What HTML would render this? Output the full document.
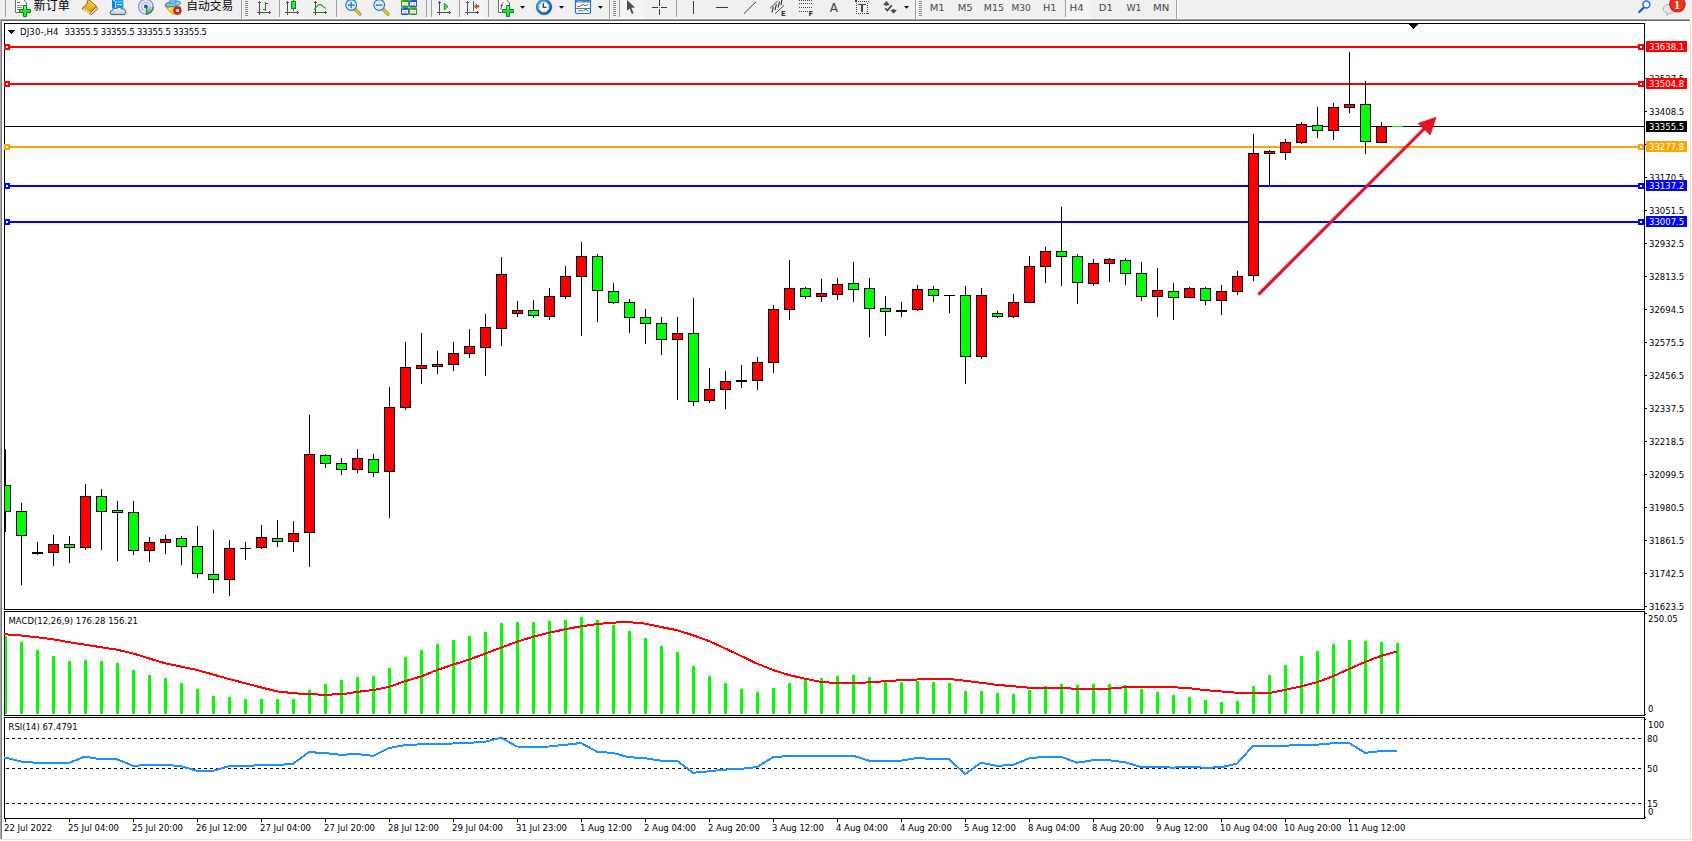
<!DOCTYPE html>
<html><head><meta charset="utf-8"><title>DJ30-,H4</title>
<style>
html,body{margin:0;padding:0;background:#fff;}
body{width:1692px;height:841px;overflow:hidden;position:relative;}
svg{position:absolute;left:0;top:0;display:block;}
text{white-space:pre;}
</style></head><body>
<svg width="1692" height="841" viewBox="0 0 1692 841" shape-rendering="crispEdges">
<rect x="0" y="0" width="1692" height="841" fill="#fff"/>
<rect x="0" y="0" width="1692" height="19" fill="#f0f0f0"/>
<rect x="0" y="18" width="1692" height="1" fill="#f7f7f7"/>
<rect x="0" y="19" width="1690" height="1" fill="#a0a0a0"/>
<rect x="0" y="20" width="1690" height="1" fill="#696969"/>
<rect x="0" y="20" width="1" height="819" fill="#a8a8a8"/>
<rect x="1" y="20" width="1" height="819" fill="#7a7a7a"/>
<rect x="1690" y="21" width="1" height="819" fill="#e3e3e3"/>
<rect x="0" y="839" width="1691" height="1" fill="#e6e6e6"/>
<rect x="4" y="23" width="1641" height="1" fill="#000"/>
<rect x="4" y="609" width="1641" height="1" fill="#000"/>
<rect x="4" y="23" width="1" height="587" fill="#000"/>
<rect x="1644" y="23" width="1" height="587" fill="#000"/>
<rect x="4" y="611" width="1641" height="1" fill="#000"/>
<rect x="4" y="715" width="1641" height="1" fill="#000"/>
<rect x="4" y="611" width="1" height="105" fill="#000"/>
<rect x="1644" y="611" width="1" height="105" fill="#000"/>
<rect x="4" y="717" width="1641" height="1" fill="#000"/>
<rect x="4" y="818" width="1641" height="1" fill="#000"/>
<rect x="4" y="717" width="1" height="102" fill="#000"/>
<rect x="1644" y="717" width="1" height="102" fill="#000"/>
<rect x="1645" y="78" width="2" height="1" fill="#000"/>
<text x="1649" y="82" font-family="DejaVu Sans, Liberation Sans, sans-serif" font-size="8.5" fill="#000">33527.5</text>
<rect x="1645" y="111" width="2" height="1" fill="#000"/>
<text x="1649" y="115" font-family="DejaVu Sans, Liberation Sans, sans-serif" font-size="8.5" fill="#000">33408.5</text>
<rect x="1645" y="144" width="2" height="1" fill="#000"/>
<text x="1649" y="148" font-family="DejaVu Sans, Liberation Sans, sans-serif" font-size="8.5" fill="#000">33289.5</text>
<rect x="1645" y="177" width="2" height="1" fill="#000"/>
<text x="1649" y="181" font-family="DejaVu Sans, Liberation Sans, sans-serif" font-size="8.5" fill="#000">33170.5</text>
<rect x="1645" y="210" width="2" height="1" fill="#000"/>
<text x="1649" y="214" font-family="DejaVu Sans, Liberation Sans, sans-serif" font-size="8.5" fill="#000">33051.5</text>
<rect x="1645" y="243" width="2" height="1" fill="#000"/>
<text x="1649" y="247" font-family="DejaVu Sans, Liberation Sans, sans-serif" font-size="8.5" fill="#000">32932.5</text>
<rect x="1645" y="276" width="2" height="1" fill="#000"/>
<text x="1649" y="280" font-family="DejaVu Sans, Liberation Sans, sans-serif" font-size="8.5" fill="#000">32813.5</text>
<rect x="1645" y="309" width="2" height="1" fill="#000"/>
<text x="1649" y="313" font-family="DejaVu Sans, Liberation Sans, sans-serif" font-size="8.5" fill="#000">32694.5</text>
<rect x="1645" y="342" width="2" height="1" fill="#000"/>
<text x="1649" y="346" font-family="DejaVu Sans, Liberation Sans, sans-serif" font-size="8.5" fill="#000">32575.5</text>
<rect x="1645" y="375" width="2" height="1" fill="#000"/>
<text x="1649" y="379" font-family="DejaVu Sans, Liberation Sans, sans-serif" font-size="8.5" fill="#000">32456.5</text>
<rect x="1645" y="408" width="2" height="1" fill="#000"/>
<text x="1649" y="412" font-family="DejaVu Sans, Liberation Sans, sans-serif" font-size="8.5" fill="#000">32337.5</text>
<rect x="1645" y="441" width="2" height="1" fill="#000"/>
<text x="1649" y="445" font-family="DejaVu Sans, Liberation Sans, sans-serif" font-size="8.5" fill="#000">32218.5</text>
<rect x="1645" y="474" width="2" height="1" fill="#000"/>
<text x="1649" y="478" font-family="DejaVu Sans, Liberation Sans, sans-serif" font-size="8.5" fill="#000">32099.5</text>
<rect x="1645" y="507" width="2" height="1" fill="#000"/>
<text x="1649" y="511" font-family="DejaVu Sans, Liberation Sans, sans-serif" font-size="8.5" fill="#000">31980.5</text>
<rect x="1645" y="540" width="2" height="1" fill="#000"/>
<text x="1649" y="544" font-family="DejaVu Sans, Liberation Sans, sans-serif" font-size="8.5" fill="#000">31861.5</text>
<rect x="1645" y="573" width="2" height="1" fill="#000"/>
<text x="1649" y="577" font-family="DejaVu Sans, Liberation Sans, sans-serif" font-size="8.5" fill="#000">31742.5</text>
<rect x="1645" y="606" width="2" height="1" fill="#000"/>
<text x="1649" y="610" font-family="DejaVu Sans, Liberation Sans, sans-serif" font-size="8.5" fill="#000">31623.5</text>
<rect x="5" y="126" width="1639" height="1" fill="#000"/>
<rect x="5" y="46" width="1639" height="2" fill="#ff0000"/>
<rect x="5" y="83" width="1639" height="2" fill="#ff0000"/>
<rect x="5" y="146" width="1639" height="2" fill="#ffa500"/>
<rect x="5" y="185" width="1639" height="2" fill="#0000ff"/>
<rect x="5" y="221" width="1639" height="2" fill="#0000ff"/>
<defs><clipPath id="mainclip"><rect x="5" y="24" width="1639" height="585"/></clipPath></defs>
<g clip-path="url(#mainclip)">
<rect x="5" y="449" width="1" height="83" fill="#000"/>
<rect x="0" y="485" width="11" height="27" fill="#000"/>
<rect x="1" y="486" width="9" height="25" fill="#00ff00"/>
<rect x="21" y="503" width="1" height="82" fill="#000"/>
<rect x="16" y="511" width="11" height="25" fill="#000"/>
<rect x="17" y="512" width="9" height="23" fill="#00ff00"/>
<rect x="37" y="542" width="1" height="13" fill="#000"/>
<rect x="32" y="552" width="11" height="2" fill="#000"/>
<rect x="53" y="535" width="1" height="31" fill="#000"/>
<rect x="48" y="544" width="11" height="9" fill="#000"/>
<rect x="49" y="545" width="9" height="7" fill="#ff0000"/>
<rect x="69" y="536" width="1" height="27" fill="#000"/>
<rect x="64" y="544" width="11" height="4" fill="#000"/>
<rect x="65" y="545" width="9" height="2" fill="#00ff00"/>
<rect x="85" y="484" width="1" height="66" fill="#000"/>
<rect x="80" y="496" width="11" height="52" fill="#000"/>
<rect x="81" y="497" width="9" height="50" fill="#ff0000"/>
<rect x="101" y="489" width="1" height="61" fill="#000"/>
<rect x="96" y="496" width="11" height="16" fill="#000"/>
<rect x="97" y="497" width="9" height="14" fill="#00ff00"/>
<rect x="117" y="501" width="1" height="60" fill="#000"/>
<rect x="112" y="510" width="11" height="3" fill="#000"/>
<rect x="113" y="511" width="9" height="1" fill="#00ff00"/>
<rect x="133" y="501" width="1" height="54" fill="#000"/>
<rect x="128" y="512" width="11" height="39" fill="#000"/>
<rect x="129" y="513" width="9" height="37" fill="#00ff00"/>
<rect x="149" y="537" width="1" height="25" fill="#000"/>
<rect x="144" y="542" width="11" height="9" fill="#000"/>
<rect x="145" y="543" width="9" height="7" fill="#ff0000"/>
<rect x="165" y="535" width="1" height="19" fill="#000"/>
<rect x="160" y="539" width="11" height="4" fill="#000"/>
<rect x="161" y="540" width="9" height="2" fill="#ff0000"/>
<rect x="181" y="536" width="1" height="29" fill="#000"/>
<rect x="176" y="538" width="11" height="9" fill="#000"/>
<rect x="177" y="539" width="9" height="7" fill="#00ff00"/>
<rect x="197" y="526" width="1" height="52" fill="#000"/>
<rect x="192" y="546" width="11" height="28" fill="#000"/>
<rect x="193" y="547" width="9" height="26" fill="#00ff00"/>
<rect x="213" y="530" width="1" height="63" fill="#000"/>
<rect x="208" y="574" width="11" height="6" fill="#000"/>
<rect x="209" y="575" width="9" height="4" fill="#00ff00"/>
<rect x="229" y="540" width="1" height="56" fill="#000"/>
<rect x="224" y="548" width="11" height="32" fill="#000"/>
<rect x="225" y="549" width="9" height="30" fill="#ff0000"/>
<rect x="245" y="542" width="1" height="18" fill="#000"/>
<rect x="240" y="548" width="11" height="1" fill="#000"/>
<rect x="261" y="525" width="1" height="24" fill="#000"/>
<rect x="256" y="537" width="11" height="11" fill="#000"/>
<rect x="257" y="538" width="9" height="9" fill="#ff0000"/>
<rect x="277" y="520" width="1" height="27" fill="#000"/>
<rect x="272" y="538" width="11" height="4" fill="#000"/>
<rect x="273" y="539" width="9" height="2" fill="#00ff00"/>
<rect x="293" y="521" width="1" height="31" fill="#000"/>
<rect x="288" y="533" width="11" height="9" fill="#000"/>
<rect x="289" y="534" width="9" height="7" fill="#ff0000"/>
<rect x="309" y="415" width="1" height="152" fill="#000"/>
<rect x="304" y="454" width="11" height="79" fill="#000"/>
<rect x="305" y="455" width="9" height="77" fill="#ff0000"/>
<rect x="325" y="454" width="1" height="14" fill="#000"/>
<rect x="320" y="455" width="11" height="9" fill="#000"/>
<rect x="321" y="456" width="9" height="7" fill="#00ff00"/>
<rect x="341" y="458" width="1" height="17" fill="#000"/>
<rect x="336" y="463" width="11" height="7" fill="#000"/>
<rect x="337" y="464" width="9" height="5" fill="#00ff00"/>
<rect x="357" y="449" width="1" height="24" fill="#000"/>
<rect x="352" y="458" width="11" height="12" fill="#000"/>
<rect x="353" y="459" width="9" height="10" fill="#ff0000"/>
<rect x="373" y="454" width="1" height="23" fill="#000"/>
<rect x="368" y="459" width="11" height="14" fill="#000"/>
<rect x="369" y="460" width="9" height="12" fill="#00ff00"/>
<rect x="389" y="387" width="1" height="131" fill="#000"/>
<rect x="384" y="407" width="11" height="65" fill="#000"/>
<rect x="385" y="408" width="9" height="63" fill="#ff0000"/>
<rect x="405" y="342" width="1" height="68" fill="#000"/>
<rect x="400" y="367" width="11" height="41" fill="#000"/>
<rect x="401" y="368" width="9" height="39" fill="#ff0000"/>
<rect x="421" y="333" width="1" height="51" fill="#000"/>
<rect x="416" y="365" width="11" height="4" fill="#000"/>
<rect x="417" y="366" width="9" height="2" fill="#ff0000"/>
<rect x="437" y="351" width="1" height="23" fill="#000"/>
<rect x="432" y="364" width="11" height="3" fill="#000"/>
<rect x="433" y="365" width="9" height="1" fill="#ff0000"/>
<rect x="453" y="342" width="1" height="29" fill="#000"/>
<rect x="448" y="353" width="11" height="12" fill="#000"/>
<rect x="449" y="354" width="9" height="10" fill="#ff0000"/>
<rect x="469" y="329" width="1" height="29" fill="#000"/>
<rect x="464" y="346" width="11" height="8" fill="#000"/>
<rect x="465" y="347" width="9" height="6" fill="#ff0000"/>
<rect x="485" y="314" width="1" height="62" fill="#000"/>
<rect x="480" y="327" width="11" height="21" fill="#000"/>
<rect x="481" y="328" width="9" height="19" fill="#ff0000"/>
<rect x="501" y="257" width="1" height="89" fill="#000"/>
<rect x="496" y="274" width="11" height="55" fill="#000"/>
<rect x="497" y="275" width="9" height="53" fill="#ff0000"/>
<rect x="517" y="301" width="1" height="16" fill="#000"/>
<rect x="512" y="310" width="11" height="4" fill="#000"/>
<rect x="513" y="311" width="9" height="2" fill="#ff0000"/>
<rect x="533" y="300" width="1" height="18" fill="#000"/>
<rect x="528" y="310" width="11" height="6" fill="#000"/>
<rect x="529" y="311" width="9" height="4" fill="#00ff00"/>
<rect x="549" y="288" width="1" height="32" fill="#000"/>
<rect x="544" y="296" width="11" height="21" fill="#000"/>
<rect x="545" y="297" width="9" height="19" fill="#ff0000"/>
<rect x="565" y="266" width="1" height="33" fill="#000"/>
<rect x="560" y="276" width="11" height="21" fill="#000"/>
<rect x="561" y="277" width="9" height="19" fill="#ff0000"/>
<rect x="581" y="242" width="1" height="94" fill="#000"/>
<rect x="576" y="256" width="11" height="21" fill="#000"/>
<rect x="577" y="257" width="9" height="19" fill="#ff0000"/>
<rect x="597" y="254" width="1" height="68" fill="#000"/>
<rect x="592" y="256" width="11" height="35" fill="#000"/>
<rect x="593" y="257" width="9" height="33" fill="#00ff00"/>
<rect x="613" y="283" width="1" height="21" fill="#000"/>
<rect x="608" y="291" width="11" height="12" fill="#000"/>
<rect x="609" y="292" width="9" height="10" fill="#00ff00"/>
<rect x="629" y="299" width="1" height="34" fill="#000"/>
<rect x="624" y="302" width="11" height="16" fill="#000"/>
<rect x="625" y="303" width="9" height="14" fill="#00ff00"/>
<rect x="645" y="309" width="1" height="35" fill="#000"/>
<rect x="640" y="317" width="11" height="7" fill="#000"/>
<rect x="641" y="318" width="9" height="5" fill="#00ff00"/>
<rect x="661" y="317" width="1" height="38" fill="#000"/>
<rect x="656" y="323" width="11" height="17" fill="#000"/>
<rect x="657" y="324" width="9" height="15" fill="#00ff00"/>
<rect x="677" y="317" width="1" height="83" fill="#000"/>
<rect x="672" y="333" width="11" height="7" fill="#000"/>
<rect x="673" y="334" width="9" height="5" fill="#ff0000"/>
<rect x="693" y="298" width="1" height="108" fill="#000"/>
<rect x="688" y="333" width="11" height="69" fill="#000"/>
<rect x="689" y="334" width="9" height="67" fill="#00ff00"/>
<rect x="709" y="368" width="1" height="35" fill="#000"/>
<rect x="704" y="389" width="11" height="12" fill="#000"/>
<rect x="705" y="390" width="9" height="10" fill="#ff0000"/>
<rect x="725" y="371" width="1" height="38" fill="#000"/>
<rect x="720" y="381" width="11" height="9" fill="#000"/>
<rect x="721" y="382" width="9" height="7" fill="#ff0000"/>
<rect x="741" y="365" width="1" height="23" fill="#000"/>
<rect x="736" y="380" width="11" height="2" fill="#000"/>
<rect x="757" y="357" width="1" height="33" fill="#000"/>
<rect x="752" y="362" width="11" height="19" fill="#000"/>
<rect x="753" y="363" width="9" height="17" fill="#ff0000"/>
<rect x="773" y="305" width="1" height="68" fill="#000"/>
<rect x="768" y="309" width="11" height="54" fill="#000"/>
<rect x="769" y="310" width="9" height="52" fill="#ff0000"/>
<rect x="789" y="260" width="1" height="60" fill="#000"/>
<rect x="784" y="288" width="11" height="22" fill="#000"/>
<rect x="785" y="289" width="9" height="20" fill="#ff0000"/>
<rect x="805" y="287" width="1" height="12" fill="#000"/>
<rect x="800" y="288" width="11" height="9" fill="#000"/>
<rect x="801" y="289" width="9" height="7" fill="#00ff00"/>
<rect x="821" y="279" width="1" height="23" fill="#000"/>
<rect x="816" y="293" width="11" height="4" fill="#000"/>
<rect x="817" y="294" width="9" height="2" fill="#ff0000"/>
<rect x="837" y="278" width="1" height="22" fill="#000"/>
<rect x="832" y="284" width="11" height="11" fill="#000"/>
<rect x="833" y="285" width="9" height="9" fill="#ff0000"/>
<rect x="853" y="262" width="1" height="40" fill="#000"/>
<rect x="848" y="283" width="11" height="7" fill="#000"/>
<rect x="849" y="284" width="9" height="5" fill="#00ff00"/>
<rect x="869" y="278" width="1" height="59" fill="#000"/>
<rect x="864" y="288" width="11" height="21" fill="#000"/>
<rect x="865" y="289" width="9" height="19" fill="#00ff00"/>
<rect x="885" y="296" width="1" height="40" fill="#000"/>
<rect x="880" y="308" width="11" height="4" fill="#000"/>
<rect x="881" y="309" width="9" height="2" fill="#00ff00"/>
<rect x="901" y="302" width="1" height="15" fill="#000"/>
<rect x="896" y="310" width="11" height="2" fill="#000"/>
<rect x="917" y="285" width="1" height="26" fill="#000"/>
<rect x="912" y="289" width="11" height="21" fill="#000"/>
<rect x="913" y="290" width="9" height="19" fill="#ff0000"/>
<rect x="933" y="286" width="1" height="16" fill="#000"/>
<rect x="928" y="289" width="11" height="7" fill="#000"/>
<rect x="929" y="290" width="9" height="5" fill="#00ff00"/>
<rect x="949" y="295" width="1" height="18" fill="#000"/>
<rect x="944" y="295" width="11" height="1" fill="#000"/>
<rect x="965" y="286" width="1" height="98" fill="#000"/>
<rect x="960" y="295" width="11" height="62" fill="#000"/>
<rect x="961" y="296" width="9" height="60" fill="#00ff00"/>
<rect x="981" y="288" width="1" height="71" fill="#000"/>
<rect x="976" y="295" width="11" height="62" fill="#000"/>
<rect x="977" y="296" width="9" height="60" fill="#ff0000"/>
<rect x="997" y="311" width="1" height="7" fill="#000"/>
<rect x="992" y="313" width="11" height="4" fill="#000"/>
<rect x="993" y="314" width="9" height="2" fill="#00ff00"/>
<rect x="1013" y="294" width="1" height="24" fill="#000"/>
<rect x="1008" y="302" width="11" height="15" fill="#000"/>
<rect x="1009" y="303" width="9" height="13" fill="#ff0000"/>
<rect x="1029" y="256" width="1" height="47" fill="#000"/>
<rect x="1024" y="266" width="11" height="37" fill="#000"/>
<rect x="1025" y="267" width="9" height="35" fill="#ff0000"/>
<rect x="1045" y="247" width="1" height="36" fill="#000"/>
<rect x="1040" y="251" width="11" height="16" fill="#000"/>
<rect x="1041" y="252" width="9" height="14" fill="#ff0000"/>
<rect x="1061" y="207" width="1" height="79" fill="#000"/>
<rect x="1056" y="251" width="11" height="6" fill="#000"/>
<rect x="1057" y="252" width="9" height="4" fill="#00ff00"/>
<rect x="1077" y="254" width="1" height="50" fill="#000"/>
<rect x="1072" y="256" width="11" height="27" fill="#000"/>
<rect x="1073" y="257" width="9" height="25" fill="#00ff00"/>
<rect x="1093" y="259" width="1" height="27" fill="#000"/>
<rect x="1088" y="263" width="11" height="21" fill="#000"/>
<rect x="1089" y="264" width="9" height="19" fill="#ff0000"/>
<rect x="1109" y="258" width="1" height="24" fill="#000"/>
<rect x="1104" y="259" width="11" height="5" fill="#000"/>
<rect x="1105" y="260" width="9" height="3" fill="#ff0000"/>
<rect x="1125" y="258" width="1" height="27" fill="#000"/>
<rect x="1120" y="260" width="11" height="14" fill="#000"/>
<rect x="1121" y="261" width="9" height="12" fill="#00ff00"/>
<rect x="1141" y="262" width="1" height="39" fill="#000"/>
<rect x="1136" y="273" width="11" height="24" fill="#000"/>
<rect x="1137" y="274" width="9" height="22" fill="#00ff00"/>
<rect x="1157" y="268" width="1" height="49" fill="#000"/>
<rect x="1152" y="290" width="11" height="7" fill="#000"/>
<rect x="1153" y="291" width="9" height="5" fill="#ff0000"/>
<rect x="1173" y="283" width="1" height="37" fill="#000"/>
<rect x="1168" y="291" width="11" height="7" fill="#000"/>
<rect x="1169" y="292" width="9" height="5" fill="#00ff00"/>
<rect x="1189" y="287" width="1" height="11" fill="#000"/>
<rect x="1184" y="288" width="11" height="10" fill="#000"/>
<rect x="1185" y="289" width="9" height="8" fill="#ff0000"/>
<rect x="1205" y="287" width="1" height="18" fill="#000"/>
<rect x="1200" y="288" width="11" height="13" fill="#000"/>
<rect x="1201" y="289" width="9" height="11" fill="#00ff00"/>
<rect x="1221" y="285" width="1" height="30" fill="#000"/>
<rect x="1216" y="291" width="11" height="10" fill="#000"/>
<rect x="1217" y="292" width="9" height="8" fill="#ff0000"/>
<rect x="1237" y="271" width="1" height="24" fill="#000"/>
<rect x="1232" y="276" width="11" height="16" fill="#000"/>
<rect x="1233" y="277" width="9" height="14" fill="#ff0000"/>
<rect x="1253" y="134" width="1" height="147" fill="#000"/>
<rect x="1248" y="153" width="11" height="123" fill="#000"/>
<rect x="1249" y="154" width="9" height="121" fill="#ff0000"/>
<rect x="1269" y="150" width="1" height="36" fill="#000"/>
<rect x="1264" y="151" width="11" height="3" fill="#000"/>
<rect x="1265" y="152" width="9" height="1" fill="#ff0000"/>
<rect x="1285" y="139" width="1" height="21" fill="#000"/>
<rect x="1280" y="142" width="11" height="11" fill="#000"/>
<rect x="1281" y="143" width="9" height="9" fill="#ff0000"/>
<rect x="1301" y="122" width="1" height="22" fill="#000"/>
<rect x="1296" y="124" width="11" height="19" fill="#000"/>
<rect x="1297" y="125" width="9" height="17" fill="#ff0000"/>
<rect x="1317" y="107" width="1" height="31" fill="#000"/>
<rect x="1312" y="125" width="11" height="6" fill="#000"/>
<rect x="1313" y="126" width="9" height="4" fill="#00ff00"/>
<rect x="1333" y="103" width="1" height="37" fill="#000"/>
<rect x="1328" y="107" width="11" height="24" fill="#000"/>
<rect x="1329" y="108" width="9" height="22" fill="#ff0000"/>
<rect x="1349" y="52" width="1" height="61" fill="#000"/>
<rect x="1344" y="104" width="11" height="4" fill="#000"/>
<rect x="1345" y="105" width="9" height="2" fill="#ff0000"/>
<rect x="1365" y="81" width="1" height="73" fill="#000"/>
<rect x="1360" y="104" width="11" height="38" fill="#000"/>
<rect x="1361" y="105" width="9" height="36" fill="#00ff00"/>
<rect x="1381" y="122" width="1" height="21" fill="#000"/>
<rect x="1376" y="126" width="11" height="17" fill="#000"/>
<rect x="1377" y="127" width="9" height="15" fill="#ff0000"/>
<rect x="1392" y="126" width="11" height="1" fill="#00ff00"/>
</g>
<rect x="4" y="44" width="6" height="6" fill="#ff0000"/>
<rect x="6" y="46" width="2" height="2" fill="#fff"/>
<rect x="1638" y="44" width="6" height="6" fill="#ff0000"/>
<rect x="1640" y="46" width="2" height="2" fill="#fff"/>
<rect x="4" y="81" width="6" height="6" fill="#ff0000"/>
<rect x="6" y="83" width="2" height="2" fill="#fff"/>
<rect x="1638" y="81" width="6" height="6" fill="#ff0000"/>
<rect x="1640" y="83" width="2" height="2" fill="#fff"/>
<rect x="4" y="144" width="6" height="6" fill="#ffa500"/>
<rect x="6" y="146" width="2" height="2" fill="#fff"/>
<rect x="1638" y="144" width="6" height="6" fill="#ffa500"/>
<rect x="1640" y="146" width="2" height="2" fill="#fff"/>
<rect x="4" y="183" width="6" height="6" fill="#0000ff"/>
<rect x="6" y="185" width="2" height="2" fill="#fff"/>
<rect x="1638" y="183" width="6" height="6" fill="#0000ff"/>
<rect x="1640" y="185" width="2" height="2" fill="#fff"/>
<rect x="4" y="219" width="6" height="6" fill="#0000ff"/>
<rect x="6" y="221" width="2" height="2" fill="#fff"/>
<rect x="1638" y="219" width="6" height="6" fill="#0000ff"/>
<rect x="1640" y="221" width="2" height="2" fill="#fff"/>
<rect x="1646" y="41" width="41" height="11" fill="#ff0000"/>
<text x="1649" y="50" font-family="DejaVu Sans, Liberation Sans, sans-serif" font-size="8.5" fill="#fff">33638.1</text>
<rect x="1646" y="78" width="41" height="11" fill="#ff0000"/>
<text x="1649" y="87" font-family="DejaVu Sans, Liberation Sans, sans-serif" font-size="8.5" fill="#fff">33504.8</text>
<rect x="1646" y="141" width="41" height="11" fill="#ffa500"/>
<text x="1649" y="150" font-family="DejaVu Sans, Liberation Sans, sans-serif" font-size="8.5" fill="#fff">33277.8</text>
<rect x="1646" y="180" width="41" height="11" fill="#0000ff"/>
<text x="1649" y="189" font-family="DejaVu Sans, Liberation Sans, sans-serif" font-size="8.5" fill="#fff">33137.2</text>
<rect x="1646" y="216" width="41" height="11" fill="#0000ff"/>
<text x="1649" y="225" font-family="DejaVu Sans, Liberation Sans, sans-serif" font-size="8.5" fill="#fff">33007.5</text>
<rect x="1646" y="121" width="41" height="11" fill="#000"/>
<text x="1649" y="130" font-family="DejaVu Sans, Liberation Sans, sans-serif" font-size="8.5" fill="#fff">33355.5</text>
<rect x="1644" y="23" width="1" height="587" fill="#000"/>
<polygon points="1408.5,24 1418.5,24 1413.5,29.5" fill="#000"/>
<line x1="1258.4" y1="294.6" x2="1425" y2="128" stroke="#e8121e" stroke-width="3.1" stroke-linecap="butt" shape-rendering="auto"/>
<polygon points="1436.6,116.7 1417.6,123.2 1430.4,135.6" fill="#e8121e" shape-rendering="auto"/>
<polygon points="8,30 15,30 11.5,34" fill="#000"/>
<text x="20" y="35" font-family="DejaVu Sans, Liberation Sans, sans-serif" font-size="8.5" fill="#000" textLength="38.5" lengthAdjust="spacing">DJ30-,H4</text>
<text x="64.5" y="35" font-family="DejaVu Sans, Liberation Sans, sans-serif" font-size="8.5" fill="#000" xml:space="preserve" textLength="142.5" lengthAdjust="spacing">33355.5 33355.5 33355.5 33355.5</text>
<rect x="5" y="636" width="2" height="78" fill="#00ff00"/>
<rect x="20" y="642" width="3" height="72" fill="#00ff00"/>
<rect x="36" y="650" width="3" height="64" fill="#00ff00"/>
<rect x="52" y="656" width="3" height="58" fill="#00ff00"/>
<rect x="68" y="661" width="3" height="53" fill="#00ff00"/>
<rect x="84" y="660" width="3" height="54" fill="#00ff00"/>
<rect x="100" y="661" width="3" height="53" fill="#00ff00"/>
<rect x="116" y="663" width="3" height="51" fill="#00ff00"/>
<rect x="132" y="670" width="3" height="44" fill="#00ff00"/>
<rect x="148" y="675" width="3" height="39" fill="#00ff00"/>
<rect x="164" y="678" width="3" height="36" fill="#00ff00"/>
<rect x="180" y="683" width="3" height="31" fill="#00ff00"/>
<rect x="196" y="689" width="3" height="25" fill="#00ff00"/>
<rect x="212" y="696" width="3" height="18" fill="#00ff00"/>
<rect x="228" y="697" width="3" height="17" fill="#00ff00"/>
<rect x="244" y="699" width="3" height="15" fill="#00ff00"/>
<rect x="260" y="699" width="3" height="15" fill="#00ff00"/>
<rect x="276" y="699" width="3" height="15" fill="#00ff00"/>
<rect x="292" y="699" width="3" height="15" fill="#00ff00"/>
<rect x="308" y="690" width="3" height="24" fill="#00ff00"/>
<rect x="324" y="684" width="3" height="30" fill="#00ff00"/>
<rect x="340" y="680" width="3" height="34" fill="#00ff00"/>
<rect x="356" y="677" width="3" height="37" fill="#00ff00"/>
<rect x="372" y="676" width="3" height="38" fill="#00ff00"/>
<rect x="388" y="668" width="3" height="46" fill="#00ff00"/>
<rect x="404" y="657" width="3" height="57" fill="#00ff00"/>
<rect x="420" y="650" width="3" height="64" fill="#00ff00"/>
<rect x="436" y="644" width="3" height="70" fill="#00ff00"/>
<rect x="452" y="640" width="3" height="74" fill="#00ff00"/>
<rect x="468" y="636" width="3" height="78" fill="#00ff00"/>
<rect x="484" y="632" width="3" height="82" fill="#00ff00"/>
<rect x="500" y="623" width="3" height="91" fill="#00ff00"/>
<rect x="516" y="622" width="3" height="92" fill="#00ff00"/>
<rect x="532" y="622" width="3" height="92" fill="#00ff00"/>
<rect x="548" y="621" width="3" height="93" fill="#00ff00"/>
<rect x="564" y="620" width="3" height="94" fill="#00ff00"/>
<rect x="580" y="617" width="3" height="97" fill="#00ff00"/>
<rect x="596" y="620" width="3" height="94" fill="#00ff00"/>
<rect x="612" y="625" width="3" height="89" fill="#00ff00"/>
<rect x="628" y="631" width="3" height="83" fill="#00ff00"/>
<rect x="644" y="638" width="3" height="76" fill="#00ff00"/>
<rect x="660" y="646" width="3" height="68" fill="#00ff00"/>
<rect x="676" y="652" width="3" height="62" fill="#00ff00"/>
<rect x="692" y="666" width="3" height="48" fill="#00ff00"/>
<rect x="708" y="676" width="3" height="38" fill="#00ff00"/>
<rect x="724" y="683" width="3" height="31" fill="#00ff00"/>
<rect x="740" y="689" width="3" height="25" fill="#00ff00"/>
<rect x="756" y="692" width="3" height="22" fill="#00ff00"/>
<rect x="772" y="688" width="3" height="26" fill="#00ff00"/>
<rect x="788" y="683" width="3" height="31" fill="#00ff00"/>
<rect x="804" y="680" width="3" height="34" fill="#00ff00"/>
<rect x="820" y="678" width="3" height="36" fill="#00ff00"/>
<rect x="836" y="676" width="3" height="38" fill="#00ff00"/>
<rect x="852" y="675" width="3" height="39" fill="#00ff00"/>
<rect x="868" y="677" width="3" height="37" fill="#00ff00"/>
<rect x="884" y="680" width="3" height="34" fill="#00ff00"/>
<rect x="900" y="682" width="3" height="32" fill="#00ff00"/>
<rect x="916" y="681" width="3" height="33" fill="#00ff00"/>
<rect x="932" y="682" width="3" height="32" fill="#00ff00"/>
<rect x="948" y="683" width="3" height="31" fill="#00ff00"/>
<rect x="964" y="691" width="3" height="23" fill="#00ff00"/>
<rect x="980" y="691" width="3" height="23" fill="#00ff00"/>
<rect x="996" y="693" width="3" height="21" fill="#00ff00"/>
<rect x="1012" y="694" width="3" height="20" fill="#00ff00"/>
<rect x="1028" y="690" width="3" height="24" fill="#00ff00"/>
<rect x="1044" y="686" width="3" height="28" fill="#00ff00"/>
<rect x="1060" y="684" width="3" height="30" fill="#00ff00"/>
<rect x="1076" y="685" width="3" height="29" fill="#00ff00"/>
<rect x="1092" y="684" width="3" height="30" fill="#00ff00"/>
<rect x="1108" y="684" width="3" height="30" fill="#00ff00"/>
<rect x="1124" y="685" width="3" height="29" fill="#00ff00"/>
<rect x="1140" y="689" width="3" height="25" fill="#00ff00"/>
<rect x="1156" y="692" width="3" height="22" fill="#00ff00"/>
<rect x="1172" y="695" width="3" height="19" fill="#00ff00"/>
<rect x="1188" y="697" width="3" height="17" fill="#00ff00"/>
<rect x="1204" y="700" width="3" height="14" fill="#00ff00"/>
<rect x="1220" y="702" width="3" height="12" fill="#00ff00"/>
<rect x="1236" y="701" width="3" height="13" fill="#00ff00"/>
<rect x="1252" y="686" width="3" height="28" fill="#00ff00"/>
<rect x="1268" y="675" width="3" height="39" fill="#00ff00"/>
<rect x="1284" y="665" width="3" height="49" fill="#00ff00"/>
<rect x="1300" y="656" width="3" height="58" fill="#00ff00"/>
<rect x="1316" y="651" width="3" height="63" fill="#00ff00"/>
<rect x="1332" y="644" width="3" height="70" fill="#00ff00"/>
<rect x="1348" y="640" width="3" height="74" fill="#00ff00"/>
<rect x="1364" y="641" width="3" height="73" fill="#00ff00"/>
<rect x="1380" y="642" width="3" height="72" fill="#00ff00"/>
<rect x="1396" y="643" width="3" height="71" fill="#00ff00"/>
<polyline points="4,634.2 5,634.3 21,635.5 37,637.3 53,639.3 69,642.2 85,644.7 101,647.2 117,649.7 133,653.4 149,658.4 165,663.3 181,666.6 197,670.0 213,674.5 229,679.0 245,683.2 261,687.4 277,691.4 293,693.1 309,694.4 325,694.6 341,694.4 357,691.9 373,690.1 389,686.9 405,681.2 421,676.5 437,670.0 453,664.6 469,659.6 485,653.7 501,647.7 517,641.7 533,636.8 549,632.8 565,629.3 581,626.3 597,624.1 613,622.6 629,622.1 645,623.6 661,627.0 677,630.2 693,635.3 709,641.0 725,648.4 741,655.9 757,663.6 773,670.0 789,675.0 805,678.7 821,682.0 837,683.0 853,683.0 869,682.4 885,681.2 901,680.2 917,679.5 933,678.7 949,679.0 965,680.7 981,682.7 997,684.9 1013,686.2 1029,687.7 1045,687.9 1061,688.2 1077,688.7 1093,688.7 1109,688.7 1125,687.2 1141,686.7 1157,686.7 1173,687.2 1189,688.2 1205,690.1 1221,691.4 1237,692.8 1253,693.4 1269,693.1 1285,689.9 1301,686.4 1317,682.3 1333,676.2 1349,669.0 1365,662.0 1381,655.9 1397,651.5" fill="none" stroke="#ff0000" stroke-width="2" stroke-linejoin="round"/>
<text x="8.5" y="624" font-family="DejaVu Sans, Liberation Sans, sans-serif" font-size="8.5" fill="#000">MACD(12,26,9) 176.28 156.21</text>
<rect x="1645" y="613" width="2" height="1" fill="#000"/>
<text x="1648" y="622" font-family="DejaVu Sans, Liberation Sans, sans-serif" font-size="8.5" fill="#000">250.05</text>
<rect x="1645" y="714" width="1" height="1" fill="#000"/>
<text x="1648" y="712" font-family="DejaVu Sans, Liberation Sans, sans-serif" font-size="8.5" fill="#000">0</text>
<line x1="6" y1="738.5" x2="1643" y2="738.5" stroke="#000" stroke-width="1" stroke-dasharray="3,3"/>
<line x1="6" y1="768.5" x2="1643" y2="768.5" stroke="#000" stroke-width="1" stroke-dasharray="3,3"/>
<line x1="6" y1="803.5" x2="1643" y2="803.5" stroke="#000" stroke-width="1" stroke-dasharray="3,3"/>
<polyline points="4,757.4 5,757.6 21,761.6 37,762.8 53,762.8 69,762.8 85,756.6 101,759.3 117,759.3 133,765.8 149,765.0 165,764.8 181,766.2 197,770.8 213,770.8 229,766.2 245,766.0 261,765.1 277,765.1 293,763.8 309,752.1 325,753.1 341,754.8 357,754.0 373,755.9 389,748.0 405,745.1 421,744.3 437,743.8 453,743.5 469,742.8 485,741.8 501,737.8 517,746.5 533,746.8 549,746.5 565,744.8 581,743.0 597,751.7 613,753.0 629,757.2 645,758.2 661,760.7 677,760.7 693,772.8 709,771.3 725,769.6 741,768.9 757,767.0 773,757.2 789,756.0 805,755.7 821,755.7 837,755.7 853,755.7 869,760.7 885,760.7 901,760.7 917,758.0 933,759.0 949,759.0 965,774.1 981,762.7 997,765.9 1013,764.9 1029,758.4 1045,756.7 1061,756.7 1077,762.7 1093,760.2 1109,760.2 1125,762.2 1141,767.1 1157,767.1 1173,767.6 1189,766.9 1205,767.7 1221,767.3 1237,763.6 1253,745.8 1269,745.8 1285,745.8 1301,744.7 1317,744.7 1333,743.2 1349,742.9 1365,752.8 1381,751.1 1397,751.1" fill="none" stroke="#1e90ff" stroke-width="2" stroke-linejoin="round"/>
<text x="8.5" y="730" font-family="DejaVu Sans, Liberation Sans, sans-serif" font-size="8.5" fill="#000">RSI(14) 67.4791</text>
<text x="1648" y="728" font-family="DejaVu Sans, Liberation Sans, sans-serif" font-size="8.5" fill="#000">100</text>
<text x="1647" y="742" font-family="DejaVu Sans, Liberation Sans, sans-serif" font-size="8.5" fill="#000">80</text>
<text x="1647" y="772" font-family="DejaVu Sans, Liberation Sans, sans-serif" font-size="8.5" fill="#000">50</text>
<text x="1647" y="807" font-family="DejaVu Sans, Liberation Sans, sans-serif" font-size="8.5" fill="#000">15</text>
<text x="1648" y="815" font-family="DejaVu Sans, Liberation Sans, sans-serif" font-size="8.5" fill="#000">0</text>
<rect x="1645" y="719" width="1" height="1" fill="#000"/>
<rect x="1645" y="817" width="1" height="1" fill="#000"/>
<rect x="5" y="819" width="1" height="3" fill="#000"/>
<text x="4" y="831" font-family="DejaVu Sans, Liberation Sans, sans-serif" font-size="8.5" fill="#000">22 Jul 2022</text>
<rect x="69" y="819" width="1" height="3" fill="#000"/>
<text x="68" y="831" font-family="DejaVu Sans, Liberation Sans, sans-serif" font-size="8.5" fill="#000">25 Jul 04:00</text>
<rect x="133" y="819" width="1" height="3" fill="#000"/>
<text x="132" y="831" font-family="DejaVu Sans, Liberation Sans, sans-serif" font-size="8.5" fill="#000">25 Jul 20:00</text>
<rect x="197" y="819" width="1" height="3" fill="#000"/>
<text x="196" y="831" font-family="DejaVu Sans, Liberation Sans, sans-serif" font-size="8.5" fill="#000">26 Jul 12:00</text>
<rect x="261" y="819" width="1" height="3" fill="#000"/>
<text x="260" y="831" font-family="DejaVu Sans, Liberation Sans, sans-serif" font-size="8.5" fill="#000">27 Jul 04:00</text>
<rect x="325" y="819" width="1" height="3" fill="#000"/>
<text x="324" y="831" font-family="DejaVu Sans, Liberation Sans, sans-serif" font-size="8.5" fill="#000">27 Jul 20:00</text>
<rect x="389" y="819" width="1" height="3" fill="#000"/>
<text x="388" y="831" font-family="DejaVu Sans, Liberation Sans, sans-serif" font-size="8.5" fill="#000">28 Jul 12:00</text>
<rect x="453" y="819" width="1" height="3" fill="#000"/>
<text x="452" y="831" font-family="DejaVu Sans, Liberation Sans, sans-serif" font-size="8.5" fill="#000">29 Jul 04:00</text>
<rect x="517" y="819" width="1" height="3" fill="#000"/>
<text x="516" y="831" font-family="DejaVu Sans, Liberation Sans, sans-serif" font-size="8.5" fill="#000">31 Jul 23:00</text>
<rect x="581" y="819" width="1" height="3" fill="#000"/>
<text x="580" y="831" font-family="DejaVu Sans, Liberation Sans, sans-serif" font-size="8.5" fill="#000">1 Aug 12:00</text>
<rect x="645" y="819" width="1" height="3" fill="#000"/>
<text x="644" y="831" font-family="DejaVu Sans, Liberation Sans, sans-serif" font-size="8.5" fill="#000">2 Aug 04:00</text>
<rect x="709" y="819" width="1" height="3" fill="#000"/>
<text x="708" y="831" font-family="DejaVu Sans, Liberation Sans, sans-serif" font-size="8.5" fill="#000">2 Aug 20:00</text>
<rect x="773" y="819" width="1" height="3" fill="#000"/>
<text x="772" y="831" font-family="DejaVu Sans, Liberation Sans, sans-serif" font-size="8.5" fill="#000">3 Aug 12:00</text>
<rect x="837" y="819" width="1" height="3" fill="#000"/>
<text x="836" y="831" font-family="DejaVu Sans, Liberation Sans, sans-serif" font-size="8.5" fill="#000">4 Aug 04:00</text>
<rect x="901" y="819" width="1" height="3" fill="#000"/>
<text x="900" y="831" font-family="DejaVu Sans, Liberation Sans, sans-serif" font-size="8.5" fill="#000">4 Aug 20:00</text>
<rect x="965" y="819" width="1" height="3" fill="#000"/>
<text x="964" y="831" font-family="DejaVu Sans, Liberation Sans, sans-serif" font-size="8.5" fill="#000">5 Aug 12:00</text>
<rect x="1029" y="819" width="1" height="3" fill="#000"/>
<text x="1028" y="831" font-family="DejaVu Sans, Liberation Sans, sans-serif" font-size="8.5" fill="#000">8 Aug 04:00</text>
<rect x="1093" y="819" width="1" height="3" fill="#000"/>
<text x="1092" y="831" font-family="DejaVu Sans, Liberation Sans, sans-serif" font-size="8.5" fill="#000">8 Aug 20:00</text>
<rect x="1157" y="819" width="1" height="3" fill="#000"/>
<text x="1156" y="831" font-family="DejaVu Sans, Liberation Sans, sans-serif" font-size="8.5" fill="#000">9 Aug 12:00</text>
<rect x="1221" y="819" width="1" height="3" fill="#000"/>
<text x="1220" y="831" font-family="DejaVu Sans, Liberation Sans, sans-serif" font-size="8.5" fill="#000">10 Aug 04:00</text>
<rect x="1285" y="819" width="1" height="3" fill="#000"/>
<text x="1284" y="831" font-family="DejaVu Sans, Liberation Sans, sans-serif" font-size="8.5" fill="#000">10 Aug 20:00</text>
<rect x="1349" y="819" width="1" height="3" fill="#000"/>
<text x="1348" y="831" font-family="DejaVu Sans, Liberation Sans, sans-serif" font-size="8.5" fill="#000">11 Aug 12:00</text>
<g shape-rendering="auto"><defs><pattern id="chk" x="0" y="0" width="2" height="2" patternUnits="userSpaceOnUse"><rect width="2" height="2" fill="#fbfbfb"/><rect width="1" height="1" fill="#ececec"/><rect x="1" y="1" width="1" height="1" fill="#ececec"/></pattern><linearGradient id="gold" x1="0" y1="0" x2="0" y2="1"><stop offset="0" stop-color="#f7d23a"/><stop offset="1" stop-color="#d99a12"/></linearGradient><linearGradient id="cloud" x1="0" y1="0" x2="0" y2="1"><stop offset="0" stop-color="#ffffff"/><stop offset="1" stop-color="#b9c4d8"/></linearGradient><radialGradient id="lens" cx="0.5" cy="0.5" r="0.5"><stop offset="0" stop-color="#ffffff"/><stop offset="1" stop-color="#bfe3f7"/></radialGradient><linearGradient id="sigg" x1="0" y1="0" x2="0" y2="1"><stop offset="0" stop-color="#cfe8c8"/><stop offset="1" stop-color="#3aa040"/></linearGradient><linearGradient id="clk" x1="0" y1="0" x2="1" y2="1"><stop offset="0" stop-color="#5ab8ff"/><stop offset="0.5" stop-color="#1478e0"/><stop offset="1" stop-color="#0a4aa8"/></linearGradient></defs>
<g id="toolbar">
<rect x="241" y="0" width="1" height="19" fill="#a0a0a0"/><rect x="242" y="0" width="1" height="19" fill="#fcfcfc"/>
<rect x="609" y="0" width="1" height="19" fill="#a0a0a0"/><rect x="610" y="0" width="1" height="19" fill="#fcfcfc"/>
<rect x="915" y="0" width="1" height="19" fill="#a0a0a0"/><rect x="916" y="0" width="1" height="19" fill="#fcfcfc"/>
<rect x="1176" y="0" width="1" height="19" fill="#a0a0a0"/><rect x="1177" y="0" width="1" height="19" fill="#fcfcfc"/>
<rect x="5" y="0" width="1" height="17" fill="#a0a0a0"/>
<rect x="279" y="0" width="1" height="17" fill="#a0a0a0"/>
<rect x="336" y="0" width="1" height="17" fill="#a0a0a0"/>
<rect x="426" y="0" width="1" height="17" fill="#a0a0a0"/>
<rect x="431" y="0" width="1" height="17" fill="#a0a0a0"/>
<rect x="459" y="0" width="1" height="17" fill="#a0a0a0"/>
<rect x="488" y="0" width="1" height="17" fill="#a0a0a0"/>
<rect x="619" y="0" width="1" height="17" fill="#a0a0a0"/>
<rect x="676" y="0" width="1" height="17" fill="#a0a0a0"/>
<rect x="245" y="1" width="3" height="1" fill="#8c8c8c"/><rect x="245" y="3" width="3" height="1" fill="#8c8c8c"/><rect x="245" y="5" width="3" height="1" fill="#8c8c8c"/><rect x="245" y="7" width="3" height="1" fill="#8c8c8c"/><rect x="245" y="9" width="3" height="1" fill="#8c8c8c"/><rect x="245" y="11" width="3" height="1" fill="#8c8c8c"/><rect x="245" y="13" width="3" height="1" fill="#8c8c8c"/><rect x="245" y="15" width="3" height="1" fill="#8c8c8c"/>
<rect x="613" y="1" width="3" height="1" fill="#8c8c8c"/><rect x="613" y="3" width="3" height="1" fill="#8c8c8c"/><rect x="613" y="5" width="3" height="1" fill="#8c8c8c"/><rect x="613" y="7" width="3" height="1" fill="#8c8c8c"/><rect x="613" y="9" width="3" height="1" fill="#8c8c8c"/><rect x="613" y="11" width="3" height="1" fill="#8c8c8c"/><rect x="613" y="13" width="3" height="1" fill="#8c8c8c"/><rect x="613" y="15" width="3" height="1" fill="#8c8c8c"/>
<rect x="919" y="1" width="3" height="1" fill="#8c8c8c"/><rect x="919" y="3" width="3" height="1" fill="#8c8c8c"/><rect x="919" y="5" width="3" height="1" fill="#8c8c8c"/><rect x="919" y="7" width="3" height="1" fill="#8c8c8c"/><rect x="919" y="9" width="3" height="1" fill="#8c8c8c"/><rect x="919" y="11" width="3" height="1" fill="#8c8c8c"/><rect x="919" y="13" width="3" height="1" fill="#8c8c8c"/><rect x="919" y="15" width="3" height="1" fill="#8c8c8c"/>
<rect x="280" y="0" width="24" height="17" fill="url(#chk)"/><rect x="279" y="17" width="25" height="1" fill="#fdfdfd"/>
<rect x="432" y="0" width="24" height="17" fill="url(#chk)"/><rect x="431" y="17" width="25" height="1" fill="#fdfdfd"/>
<rect x="460" y="0" width="24" height="17" fill="url(#chk)"/><rect x="459" y="17" width="25" height="1" fill="#fdfdfd"/>
<rect x="620" y="0" width="24" height="17" fill="url(#chk)"/><rect x="619" y="17" width="25" height="1" fill="#fdfdfd"/>
<rect x="1066" y="0" width="25" height="17" fill="url(#chk)"/><rect x="1065" y="17" width="26" height="1" fill="#fdfdfd"/>
<rect x="1065" y="0" width="1" height="17" fill="#a0a0a0"/>
<path d="M15.5,-1 V12.5 H26.5 V3 L24,0 V-1" fill="#fff" stroke="#6a6a6a" stroke-width="1"/><rect x="17" y="2" width="3" height="1" fill="#777"/><rect x="17" y="5" width="6" height="1" fill="#8a8a8a"/><rect x="17" y="7" width="5" height="1" fill="#8a8a8a"/><rect x="17" y="9" width="2" height="1" fill="#8a8a8a"/><path d="M23.5,5.5 h3 v4 h4 v3 h-4 v4 h-3 v-4 h-4 v-3 h4 z" fill="#1ee83c" stroke="#0a8a14" stroke-width="1"/><rect x="24" y="6" width="2" height="3" fill="#7df58f"/>
<text x="33.8" y="10" font-family="Liberation Sans, Noto Sans CJK SC, WenQuanYi Zen Hei, sans-serif" font-size="12" fill="#000">新订单</text>
<path d="M96.2,6.2 L98,8.7 L91.2,14.8 L89.5,13.3 Z" fill="#e6d9a0" stroke="#8f5a0c" stroke-width="0.9" stroke-linejoin="round"/>
<path d="M88.4,-0.8 L96.4,6.3 L89.7,13.5 L82,8.7 L86.6,4.3 Z" fill="url(#gold)" stroke="#94580a" stroke-width="1" stroke-linejoin="round"/>
<path d="M83.3,9 L89.9,13" stroke="#fbe9a8" stroke-width="1.6" opacity="0.85"/>
<path d="M89.2,1.3 L94.8,6.2" stroke="#fff3b0" stroke-width="0.8" opacity="0.7"/>
<rect x="112" y="-1" width="11.3" height="9.5" fill="#0f9af2"/>
<path d="M112,-1 V7.5 H115.2 V1.2 Z" fill="#0a86e6"/>
<path d="M113,0.2 L115.6,1.6 V8" fill="none" stroke="#e8f6ff" stroke-width="0.8"/>
<rect x="115.8" y="1.4" width="7.4" height="1" fill="#7ad0ff"/>
<rect x="117" y="4" width="4.6" height="1.1" fill="#ffffff"/>
<path d="M111.8,14.6 C109.4,14.6 109.6,10.6 112.6,10.3 C112.8,8.4 115,8 116.8,8.6 C117.5,6.8 120.8,6.6 121.6,9.2 C123,8.4 125.6,9 125.4,11.3 C126.6,12.3 125.8,14.6 123.8,14.6 Z" fill="url(#cloud)" stroke="#3c5288" stroke-width="1"/>
<path d="M145.9,6.7 L153.9,6.7 A8,8 0 0 1 145.9,14.7 Z" fill="url(#sigg)"/>
<circle cx="145.9" cy="6.7" r="7.3" fill="none" stroke="#4f7fd2" stroke-width="1.3" opacity="0.75"/>
<path d="M153.2,6.7 A7.3,7.3 0 0 1 145.9,14" fill="none" stroke="#2f7a5a" stroke-width="1.3" opacity="0.8"/>
<circle cx="145.9" cy="6.7" r="4.3" fill="none" stroke="#7f9fdc" stroke-width="1.2" opacity="0.7"/>
<circle cx="145.9" cy="6.6" r="2" fill="#2456c8"/>
<rect x="146" y="6.8" width="1.2" height="8" fill="#1aa020"/>
<path d="M165.5,6.8 L181,6.8 L172.8,14.6 Z" fill="#f9df3a" stroke="#c89a10" stroke-width="1"/>
<ellipse cx="172.8" cy="3.9" rx="7.6" ry="2.5" fill="#7cc4ee" stroke="#2a86b4" stroke-width="1" transform="rotate(-9 172.8 3.9)"/>
<path d="M169,3.6 L170.2,-1 L175.6,-1 L176.2,3 Z" fill="#72bdea" stroke="#2a86b4" stroke-width="0.6"/>
<path d="M177,3.6 L179.6,2.2" stroke="#d8f0ff" stroke-width="0.8"/>
<circle cx="177.4" cy="10.6" r="3.9" fill="#e3260f" stroke="#b01808" stroke-width="0.8"/>
<rect x="176.1" y="9.3" width="2.8" height="2.7" fill="#fff"/>
<text x="186.2" y="10" font-family="Liberation Sans, Noto Sans CJK SC, WenQuanYi Zen Hei, sans-serif" font-size="11.8" fill="#000">自动交易</text>
<rect x="259" y="1" width="1" height="14" fill="#4f4f4f"/><rect x="258" y="2" width="3" height="1" fill="#4f4f4f"/><rect x="257" y="12" width="14" height="1" fill="#4f4f4f"/><rect x="269" y="11" width="1" height="3" fill="#4f4f4f"/>
<rect x="265" y="2" width="1" height="9" fill="#128a12"/>
<rect x="266" y="3" width="2" height="1" fill="#128a12"/>
<rect x="263" y="9" width="2" height="1" fill="#128a12"/>
<rect x="287" y="1" width="1" height="14" fill="#4f4f4f"/><rect x="286" y="2" width="3" height="1" fill="#4f4f4f"/><rect x="285" y="12" width="14" height="1" fill="#4f4f4f"/><rect x="297" y="11" width="1" height="3" fill="#4f4f4f"/>
<rect x="293" y="0" width="1" height="11" fill="#0c8a12"/>
<rect x="291.5" y="1.5" width="4" height="7" fill="#2ee64a" stroke="#0c8a12" stroke-width="1"/>
<rect x="315" y="1" width="1" height="14" fill="#4f4f4f"/><rect x="314" y="2" width="3" height="1" fill="#4f4f4f"/><rect x="313" y="12" width="14" height="1" fill="#4f4f4f"/><rect x="325" y="11" width="1" height="3" fill="#4f4f4f"/>
<path d="M314.3,9.6 C316.5,7 318.5,4 320.2,4.4 C322,4.8 323.5,7.6 325.8,8.2" fill="none" stroke="#2a9a2a" stroke-width="1.1"/>
<path d="M354.2,8.5 L360.0,14.2" stroke="#b88a10" stroke-width="3.2" stroke-linecap="round"/>
<path d="M354.2,8.5 L360.0,14.2" stroke="#f0d040" stroke-width="1.6" stroke-linecap="round"/>
<circle cx="351.2" cy="5" r="5.4" fill="url(#lens)" stroke="#2a6fd0" stroke-width="1.1"/>
<rect x="347.9" y="4.3" width="6.6" height="1.6" fill="#3f86bf"/>
<rect x="350.4" y="1.8" width="1.6" height="6.4" fill="#3f86bf"/>
<path d="M382.2,8.5 L388.0,14.2" stroke="#b88a10" stroke-width="3.2" stroke-linecap="round"/>
<path d="M382.2,8.5 L388.0,14.2" stroke="#f0d040" stroke-width="1.6" stroke-linecap="round"/>
<circle cx="379.2" cy="5" r="5.4" fill="url(#lens)" stroke="#2a6fd0" stroke-width="1.1"/>
<rect x="375.9" y="4.3" width="6.6" height="1.6" fill="#3f86bf"/>
<rect x="401" y="-0.5" width="7.9" height="7.6" rx="1.2" fill="#3a9c12"/>
<rect x="402.1" y="2.1" width="5.8" height="3.6" fill="#fff"/>
<rect x="403.1" y="5.1" width="3.8" height="0.7" fill="#3a9c12" opacity="0.6"/>
<rect x="402.1" y="0.09999999999999998" width="0.9" height="0.8" fill="#fff" opacity="0.8"/>
<rect x="403" y="3.2" width="4" height="1" fill="#b6dca0"/>
<rect x="409.1" y="-0.5" width="7.9" height="7.6" rx="1.2" fill="#2158d6"/>
<rect x="410.20000000000005" y="2.1" width="5.8" height="3.6" fill="#fff"/>
<rect x="411.20000000000005" y="5.1" width="3.8" height="0.7" fill="#2158d6" opacity="0.6"/>
<rect x="410.20000000000005" y="0.09999999999999998" width="0.9" height="0.8" fill="#fff" opacity="0.8"/>
<rect x="411.0" y="3.2" width="1" height="1" fill="#9ab4ee"/><rect x="413.0" y="3.2" width="2" height="1" fill="#9ab4ee"/>
<rect x="401" y="7.3" width="7.9" height="7.6" rx="1.2" fill="#2158d6"/>
<rect x="402.1" y="9.9" width="5.8" height="3.6" fill="#fff"/>
<rect x="403.1" y="12.899999999999999" width="3.8" height="0.7" fill="#2158d6" opacity="0.6"/>
<rect x="402.1" y="7.8999999999999995" width="0.9" height="0.8" fill="#fff" opacity="0.8"/>
<rect x="402.9" y="11.0" width="1" height="1" fill="#9ab4ee"/><rect x="404.9" y="11.0" width="2" height="1" fill="#9ab4ee"/>
<rect x="409.1" y="7.3" width="7.9" height="7.6" rx="1.2" fill="#3a9c12"/>
<rect x="410.20000000000005" y="9.9" width="5.8" height="3.6" fill="#fff"/>
<rect x="411.20000000000005" y="12.899999999999999" width="3.8" height="0.7" fill="#3a9c12" opacity="0.6"/>
<rect x="410.20000000000005" y="7.8999999999999995" width="0.9" height="0.8" fill="#fff" opacity="0.8"/>
<rect x="411.1" y="11.0" width="4" height="1" fill="#b6dca0"/>
<rect x="439" y="1" width="1" height="14" fill="#4f4f4f"/><rect x="438" y="2" width="3" height="1" fill="#4f4f4f"/><rect x="437" y="12" width="14" height="1" fill="#4f4f4f"/><rect x="449" y="11" width="1" height="3" fill="#4f4f4f"/>
<path d="M444.3,3.2 L448,6.6 L444.3,10 Z" fill="#3ee05a" stroke="#0e8a1a" stroke-width="0.9"/>
<rect x="467" y="1" width="1" height="14" fill="#4f4f4f"/><rect x="466" y="2" width="3" height="1" fill="#4f4f4f"/><rect x="465" y="12" width="14" height="1" fill="#4f4f4f"/><rect x="477" y="11" width="1" height="3" fill="#4f4f4f"/>
<rect x="473" y="1" width="1" height="10" fill="#1470b4"/>
<path d="M474.3,6.4 L476.6,4.2 L476.6,5.8 L479,5.8 L479,7 L476.6,7 L476.6,8.8 Z" fill="#f26a12" stroke="#a8280a" stroke-width="0.7"/>
<path d="M498.5,-1 V12.5 H509.5 V3 L507,0 V-1" fill="#fff" stroke="#6a6a6a" stroke-width="1"/><path d="M506.5,5.5 h3 v4 h4 v3 h-4 v4 h-3 v-4 h-4 v-3 h4 z" fill="#1ee83c" stroke="#0a8a14" stroke-width="1"/><rect x="507" y="6" width="2" height="3" fill="#7df58f"/>
<path d="M501,9.5 C501.5,6 501.5,3 503.5,2.5" fill="none" stroke="#4a4020" stroke-width="0.9"/>
<rect x="500.5" y="5" width="2.5" height="0.8" fill="#4a4020"/>
<polygon points="519.5,5.5 525.5,5.5 522.5,9" fill="#fff" opacity="0.8"/><polygon points="520,6 525,6 522.5,8.8" fill="#000"/>
<circle cx="544" cy="7" r="6.6" fill="#fafafa" stroke="url(#clk)" stroke-width="2.4"/>
<circle cx="544" cy="7" r="7.7" fill="none" stroke="#0a4fa8" stroke-width="0.6"/>
<path d="M543.3,3.3 V7.2 H546.5" fill="none" stroke="#111" stroke-width="1.1"/>
<rect x="543.6" y="2.0000000000000004" width="0.8" height="0.8" fill="#444"/>
<rect x="546.9" y="3.3000000000000003" width="0.8" height="0.8" fill="#444"/>
<rect x="548.2" y="6.6" width="0.8" height="0.8" fill="#444"/>
<rect x="546.9" y="9.9" width="0.8" height="0.8" fill="#444"/>
<rect x="543.6" y="11.2" width="0.8" height="0.8" fill="#444"/>
<rect x="540.3000000000001" y="9.9" width="0.8" height="0.8" fill="#444"/>
<rect x="539.0" y="6.6" width="0.8" height="0.8" fill="#444"/>
<rect x="540.3000000000001" y="3.3000000000000003" width="0.8" height="0.8" fill="#444"/>
<polygon points="558.5,5.5 564.5,5.5 561.5,9" fill="#fff" opacity="0.8"/><polygon points="559,6 564,6 561.5,8.8" fill="#000"/>
<rect x="575.5" y="-1" width="15" height="14.5" rx="1.2" fill="#fff" stroke="#2c6fbd" stroke-width="1.2"/>
<rect x="576" y="-0.5" width="14" height="3" fill="#3a82cc"/>
<rect x="577" y="1.2" width="5" height="0.8" fill="#9cd0ff"/>
<rect x="576" y="8.1" width="14" height="0.9" fill="#2c6fbd"/>
<polyline points="577.3,6.5 579.5,6.5 581,5.3 583,4.4 584.5,5.5 586,5.5 588,4.4" fill="none" stroke="#a52a08" stroke-width="0.9"/>
<polyline points="578,11.3 580,10.6 581,10.3 583,11.4 584,10.3 586,9.2 588.5,11.6" fill="none" stroke="#1a8a1a" stroke-width="0.9"/>
<polygon points="597.5,5.5 603.5,5.5 600.5,9" fill="#fff" opacity="0.8"/><polygon points="598,6 603,6 600.5,8.8" fill="#000"/>
<path d="M627,0 V10.8 L629.7,8.5 L631.8,13.9 L633.6,13.2 L631.4,7.7 L635,7.5 Z" fill="#4d4d4d"/>
<rect x="659" y="0" width="1" height="6" fill="#3c3c3c"/><rect x="659" y="9" width="1" height="6" fill="#3c3c3c"/>
<rect x="652" y="7" width="6" height="1" fill="#3c3c3c"/><rect x="661" y="7" width="6" height="1" fill="#3c3c3c"/>
<rect x="659" y="7" width="1" height="1" fill="#8a8a6a"/>
<rect x="693" y="1" width="1" height="13" fill="#3c3c3c"/>
<rect x="716" y="7" width="12" height="1" fill="#3c3c3c"/>
<line x1="744" y1="13.6" x2="756" y2="1.8" stroke="#3c3c3c" stroke-width="1"/>
<line x1="770" y1="8.3" x2="777.6" y2="1" stroke="#3c3c3c" stroke-width="0.9"/>
<line x1="775.2" y1="13.6" x2="784" y2="5.3" stroke="#3c3c3c" stroke-width="0.9"/>
<path d="M772,12.5 L773.3,6.5 M775,10 L776.4,4.2 M778.2,7.5 L779.5,1.5 M781,5 L782,-1" stroke="#2c2c2c" stroke-width="1.1"/>
<text x="781" y="16" font-family="DejaVu Sans, Liberation Sans, sans-serif" font-size="6.8" font-weight="bold" fill="#333">E</text>
<rect x="799" y="0" width="1" height="1" fill="#444"/>
<rect x="801" y="0" width="1" height="1" fill="#444"/>
<rect x="803" y="0" width="1" height="1" fill="#444"/>
<rect x="805" y="0" width="1" height="1" fill="#444"/>
<rect x="807" y="0" width="1" height="1" fill="#444"/>
<rect x="809" y="0" width="1" height="1" fill="#444"/>
<rect x="811" y="0" width="1" height="1" fill="#444"/>
<rect x="799" y="3" width="1" height="1" fill="#444"/>
<rect x="801" y="3" width="1" height="1" fill="#444"/>
<rect x="803" y="3" width="1" height="1" fill="#444"/>
<rect x="805" y="3" width="1" height="1" fill="#444"/>
<rect x="807" y="3" width="1" height="1" fill="#444"/>
<rect x="809" y="3" width="1" height="1" fill="#444"/>
<rect x="811" y="3" width="1" height="1" fill="#444"/>
<rect x="799" y="7" width="1" height="1" fill="#444"/>
<rect x="801" y="7" width="1" height="1" fill="#444"/>
<rect x="803" y="7" width="1" height="1" fill="#444"/>
<rect x="805" y="7" width="1" height="1" fill="#444"/>
<rect x="807" y="7" width="1" height="1" fill="#444"/>
<rect x="809" y="7" width="1" height="1" fill="#444"/>
<rect x="811" y="7" width="1" height="1" fill="#444"/>
<rect x="799" y="11" width="1" height="1" fill="#444"/>
<rect x="801" y="11" width="1" height="1" fill="#444"/>
<rect x="803" y="11" width="1" height="1" fill="#444"/>
<rect x="805" y="11" width="1" height="1" fill="#444"/>
<rect x="807" y="11" width="1" height="1" fill="#444"/>
<text x="808.6" y="16" font-family="DejaVu Sans, Liberation Sans, sans-serif" font-size="6.8" font-weight="bold" fill="#333">F</text>
<text x="829.7" y="12" font-family="DejaVu Sans, Liberation Sans, sans-serif" font-size="12" fill="#3c3c3c">A</text>
<rect x="856" y="1" width="1" height="1" fill="#444"/>
<rect x="856" y="13" width="1" height="1" fill="#444"/>
<rect x="858" y="1" width="1" height="1" fill="#444"/>
<rect x="858" y="13" width="1" height="1" fill="#444"/>
<rect x="860" y="1" width="1" height="1" fill="#444"/>
<rect x="860" y="13" width="1" height="1" fill="#444"/>
<rect x="862" y="1" width="1" height="1" fill="#444"/>
<rect x="862" y="13" width="1" height="1" fill="#444"/>
<rect x="864" y="1" width="1" height="1" fill="#444"/>
<rect x="864" y="13" width="1" height="1" fill="#444"/>
<rect x="866" y="1" width="1" height="1" fill="#444"/>
<rect x="866" y="13" width="1" height="1" fill="#444"/>
<rect x="868" y="1" width="1" height="1" fill="#444"/>
<rect x="868" y="13" width="1" height="1" fill="#444"/>
<rect x="856" y="3" width="1" height="1" fill="#444"/>
<rect x="867" y="3" width="1" height="1" fill="#444"/>
<rect x="856" y="5" width="1" height="1" fill="#444"/>
<rect x="867" y="5" width="1" height="1" fill="#444"/>
<rect x="856" y="7" width="1" height="1" fill="#444"/>
<rect x="867" y="7" width="1" height="1" fill="#444"/>
<rect x="856" y="9" width="1" height="1" fill="#444"/>
<rect x="867" y="9" width="1" height="1" fill="#444"/>
<rect x="856" y="11" width="1" height="1" fill="#444"/>
<rect x="867" y="11" width="1" height="1" fill="#444"/>
<rect x="856" y="13" width="1" height="1" fill="#444"/>
<rect x="867" y="13" width="1" height="1" fill="#444"/>
<rect x="855" y="0" width="2" height="2" fill="#333"/>
<rect x="858" y="4" width="8" height="1" fill="#444"/><rect x="861" y="4" width="2" height="8" fill="#444"/>
<path d="M886.4,1 L889.8,5 L887.5,5 L887.5,5.8 L885.3,5.8 L885.3,5 L883,5 Z" fill="#4a4a4a"/>
<path d="M885.3,8.3 L887.4,10.6 L891.8,5.3" fill="none" stroke="#3a3a3a" stroke-width="1.5"/>
<path d="M892.5,9 L894.5,9 L894.5,10 L896.9,10 L893.5,13.8 L890.3,10 L892.5,10 Z" fill="#4a4a4a"/>
<polygon points="903.5,5.5 909.5,5.5 906.5,9" fill="#fff" opacity="0.8"/><polygon points="904,6 909,6 906.5,8.8" fill="#000"/>
<text transform="translate(929.70,11) scale(1.182,1)" font-family="DejaVu Sans, Liberation Sans, sans-serif" font-size="8.5" fill="#484848">M1</text>
<text transform="translate(957.70,11) scale(1.182,1)" font-family="DejaVu Sans, Liberation Sans, sans-serif" font-size="8.5" fill="#484848">M5</text>
<text transform="translate(983.80,11) scale(1.106,1)" font-family="DejaVu Sans, Liberation Sans, sans-serif" font-size="8.5" fill="#484848">M15</text>
<text transform="translate(1011.50,11) scale(1.065,1)" font-family="DejaVu Sans, Liberation Sans, sans-serif" font-size="8.5" fill="#484848">M30</text>
<text transform="translate(1043.00,11) scale(1.150,1)" font-family="DejaVu Sans, Liberation Sans, sans-serif" font-size="8.5" fill="#484848">H1</text>
<text transform="translate(1069.60,11) scale(1.200,1)" font-family="DejaVu Sans, Liberation Sans, sans-serif" font-size="8.5" fill="#484848">H4</text>
<text transform="translate(1098.80,11) scale(1.180,1)" font-family="DejaVu Sans, Liberation Sans, sans-serif" font-size="8.5" fill="#484848">D1</text>
<text transform="translate(1126.40,11) scale(1.092,1)" font-family="DejaVu Sans, Liberation Sans, sans-serif" font-size="8.5" fill="#484848">W1</text>
<text transform="translate(1152.90,11) scale(1.192,1)" font-family="DejaVu Sans, Liberation Sans, sans-serif" font-size="8.5" fill="#484848">MN</text>
<line x1="1639.3" y1="12" x2="1643.3" y2="8" stroke="#1c5fd0" stroke-width="2.4" stroke-linecap="round"/>
<circle cx="1646.4" cy="4.5" r="3.5" fill="#f4f6fc" stroke="#2568d8" stroke-width="1.4"/>
<path d="M1668.5,4.5 C1672.5,4.5 1675,6.5 1675,9.5 C1675,12.2 1672.5,13.5 1669.5,13.5 L1667,15.6 L1667.3,13.2 C1664.5,12.5 1663.3,11 1663.3,9.2 C1663.3,6.5 1665.5,4.5 1668.5,4.5 Z" fill="#e2e4ee" stroke="#a8a8a8" stroke-width="0.9"/>
<circle cx="1677.4" cy="4.3" r="8.3" fill="#dc2a14"/>
<circle cx="1677.4" cy="3.5" r="6.5" fill="#e84a28" opacity="0.45"/>
<text x="1674.3" y="8.8" font-family="Liberation Serif, serif" font-size="11.5" font-weight="bold" fill="#fff">1</text>
</g></g>
</svg>
</body></html>
